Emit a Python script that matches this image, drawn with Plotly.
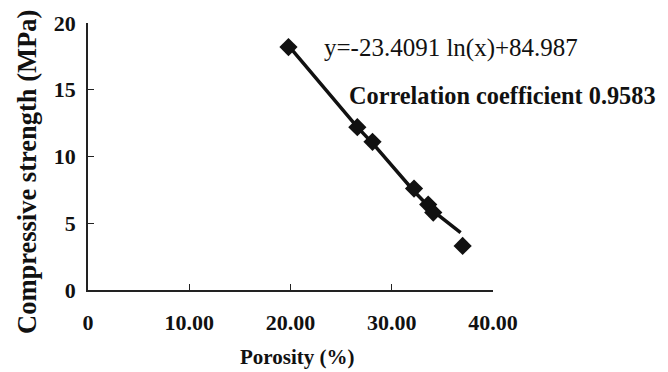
import plotly.graph_objects as go

porosity = [19.8, 26.6, 28.1, 32.2, 33.6, 34.1, 37.0]
strength = [18.2, 12.2, 11.1, 7.6, 6.4, 5.8, 3.3]

trend_x = [19.8, 26.6, 28.1, 32.2, 34.1, 36.8]
trend_y = [18.3, 12.2, 11.0, 7.4, 5.9, 4.3]

x_ticks = [0, 10, 20, 30, 40]
x_tick_text = ["0", "10.00", "20.00", "30.00", "40.00"]
y_ticks = [0, 5, 10, 15, 20]

equation = "y=-23.4091 ln(x)+84.987"
corr_text = "Correlation coefficient 0.9583"

FONT = "Liberation Serif"

# plot area on screen (page body has an 8px margin)
PX0, PX1, PY0, PY1 = 88, 493, 23, 290
W, H = 660, 364


def px(x):
    return (x - PX0) / (PX1 - PX0)


def py(y):
    return (PY1 - y) / (PY1 - PY0)


fig = go.Figure()
fig.add_trace(go.Scatter(x=trend_x, y=trend_y, mode="lines",
                         line=dict(color="#111", width=3.5), hoverinfo="skip"))
fig.add_trace(go.Scatter(x=porosity, y=strength, mode="markers",
                         marker=dict(symbol="diamond", size=14, color="#111")))


def note(text, x, y, size, bold=False, angle=0, xanchor="center"):
    return dict(text=text, x=px(x), y=py(y), xref="paper", yref="paper",
                xanchor=xanchor, yanchor="middle", textangle=angle,
                showarrow=False,
                font=dict(size=size, family=FONT,
                          weight="bold" if bold else "normal"))


fig.update_layout(
    width=W, height=H,
    margin=dict(l=PX0 - 8, r=W - (PX1 - 8), t=PY0 - 8, b=H - (PY1 - 8)),
    paper_bgcolor="white", plot_bgcolor="white",
    showlegend=False,
    font=dict(family=FONT, color="#111"),
    xaxis=dict(range=[0, 40], tickvals=x_ticks, ticktext=x_tick_text,
               showgrid=False, zeroline=False, showline=True, linecolor="#222",
               linewidth=1.5, ticks="inside", ticklen=6, tickcolor="#222",
               tickfont=dict(size=22, family=FONT, weight="bold"),
               ticklabelstandoff=12, automargin=False),
    yaxis=dict(range=[0, 20], tickvals=y_ticks,
               showgrid=False, zeroline=False, showline=True, linecolor="#222",
               linewidth=1.5, ticks="inside", ticklen=6, tickcolor="#222",
               tickfont=dict(size=22, family=FONT, weight="bold"),
               ticklabelstandoff=6, automargin=False),
    annotations=[
        note("Porosity (%)", 297, 357, 21, bold=True),
        note("Compressive strength (MPa)", 27, 172, 26.5, bold=True, angle=-90),
        note(equation, 322, 48, 25, xanchor="left"),
        note(corr_text, 347, 95, 24.3, bold=True, xanchor="left"),
    ],
)

fig.write_html("out.html")
